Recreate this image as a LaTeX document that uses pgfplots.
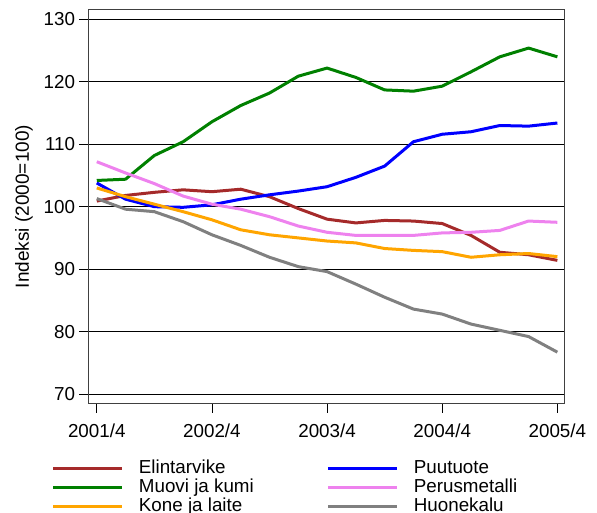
\documentclass[border=0pt]{standalone}
\usepackage{pgfplots}
\pgfplotsset{compat=1.18}
\usepackage{fontspec}
\setmainfont{Liberation Sans}

% quarterly index values, 2001/4 ... 2005/4 (x = 0..16)
\pgfplotstableread{
q  elin  puu   muovi perus kone  huone
0  100.9 103.8 104.2 107.2 103.0 101.3
1  101.8 101.2 104.4 105.4 101.6 99.6
2  102.3 100.0 108.2 103.7 100.4 99.2
3  102.7 99.9  110.4 101.7 99.2  97.6
4  102.4 100.3 113.6 100.4 97.9  95.5
5  102.8 101.2 116.2 99.6  96.3  93.8
6  101.6 101.9 118.2 98.4  95.5  91.9
7  99.7  102.5 120.9 96.9  95.0  90.4
8  98.0  103.2 122.2 95.9  94.5  89.6
9  97.4  104.7 120.7 95.4  94.2  87.6
10 97.8  106.5 118.7 95.4  93.3  85.5
11 97.7  110.4 118.5 95.4  93.0  83.6
12 97.3  111.6 119.3 95.8  92.8  82.8
13 95.4  112.0 121.6 95.9  91.9  81.2
14 92.7  113.0 124.0 96.2  92.3  80.2
15 92.3  112.9 125.4 97.7  92.5  79.2
16 91.4  113.4 124.0 97.5  92.0  76.7
}\datatable

\definecolor{cElin}{RGB}{165,42,42}
\definecolor{cPuu}{RGB}{0,0,255}
\definecolor{cMuovi}{RGB}{0,128,0}
\definecolor{cPerus}{RGB}{238,130,238}
\definecolor{cKone}{RGB}{255,165,0}
\definecolor{cHuone}{RGB}{128,128,128}

\begin{document}
\fontsize{18.8pt}{22pt}\selectfont
\begin{tikzpicture}
\begin{axis}[
    name=ax,
    scale only axis,
    width=475pt, height=393pt,
    xmin=-0.27, xmax=16.23,
    ymin=68.56, ymax=131.5,
    xtick={0,4,8,12,16},
    xticklabels={2001/4,2002/4,2003/4,2004/4,2005/4},
    ytick={70,80,...,130},
    ymajorgrids,
    grid style={black, line width=0.8pt},
    axis line style={black!75, line width=1pt},
    tick align=outside,
    major tick length=9.5pt,
    xtick pos=bottom, ytick pos=left,
    tick style={black, line width=0.8pt},
    ticklabel style={font=\fontsize{18.8pt}{22pt}\selectfont},
    /pgf/number format/assume math mode=true,
    xticklabel style={yshift=-5pt},
    yticklabel style={xshift=2pt},
    ylabel={Indeksi (2000=100)},
    ylabel style={font=\fontsize{19pt}{22pt}\selectfont, yshift=-2pt},
    every axis plot/.append style={line width=3pt, no markers, line join=round},
    legend columns=2,
    legend cell align=left,
    legend image code/.code={\draw[#1] (0pt,0pt) -- (69pt,0pt);},
    legend style={
        at={(-0.0785,-0.1446)}, anchor=north west,
        draw=none, fill=none, inner sep=0pt,
        font=\fontsize{18.8pt}{20pt}\selectfont,
        row sep=1.5pt,
        nodes={inner sep=0pt, text height=13.5pt, text depth=4pt},
        /tikz/every even column/.append style={column sep=73pt},
        /tikz/every odd column/.append style={column sep=15pt},
    },
]
\addplot[cElin]  table[x=q, y=elin]  {\datatable};
\addplot[cPuu]   table[x=q, y=puu]   {\datatable};
\addplot[cMuovi] table[x=q, y=muovi] {\datatable};
\addplot[cPerus] table[x=q, y=perus] {\datatable};
\addplot[cKone]  table[x=q, y=kone]  {\datatable};
\addplot[cHuone] table[x=q, y=huone] {\datatable};
\legend{Elintarvike, Puutuote, Muovi ja kumi, Perusmetalli, Kone ja laite, Huonekalu}
\end{axis}
\pgfresetboundingbox
\useasboundingbox ([shift={(-89pt,-109pt)}]ax.south west) rectangle ([shift={(33pt,10pt)}]ax.north east);
\end{tikzpicture}
\end{document}
